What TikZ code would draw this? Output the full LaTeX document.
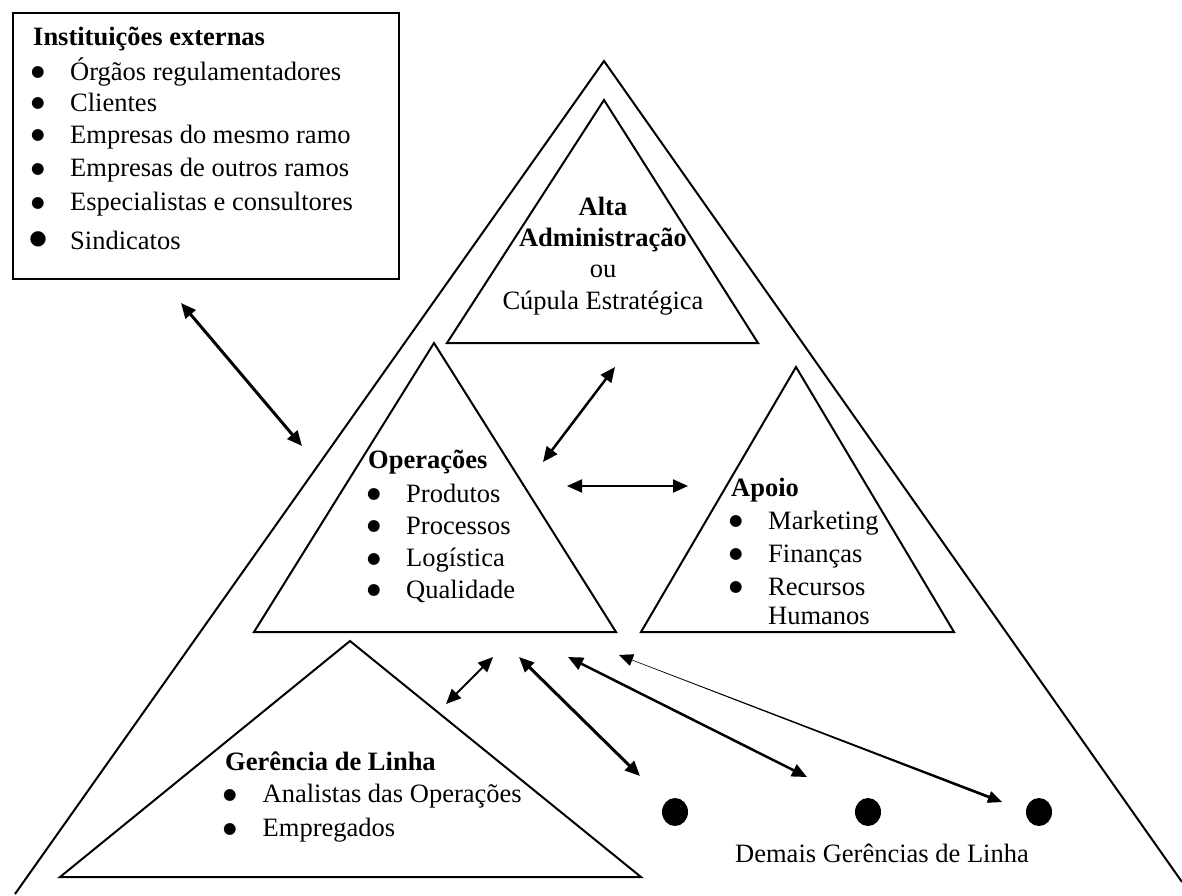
\documentclass[tikz,border=0pt]{standalone}
\usepackage{fontspec}
\setmainfont{Liberation Serif}
\newfontfamily\djv{DejaVu Sans}
\usetikzlibrary{arrows.meta,calc,shapes.geometric}
\newcommand{\mybul}{{\djv ●}}
\tikzset{
  tri/.style={line width=2pt, line join=miter},
  tip/.tip={Triangle[length=15pt,width=13pt]},
  bi/.style={{tip}-{tip}, line width=3pt},
  txt/.style={inner sep=0pt, anchor=base west, font=\fontsize{26.5}{31}\selectfont},
  ttl/.style={txt, font=\fontsize{26.5}{31}\selectfont\bfseries},
  ctr/.style={inner sep=0pt, anchor=base, font=\fontsize{26.5}{31}\selectfont},
  bul/.style={inner sep=0pt, anchor=base, yshift=3.5pt, font=\fontsize{15.5}{18}\selectfont},
  bigbul/.style={inner sep=0pt, anchor=base, yshift=5pt, font=\fontsize{20}{22}\selectfont},
  dot/.style={ellipse, fill=black, inner sep=0pt, minimum width=26pt, minimum height=28pt},
}
\begin{document}
\begin{tikzpicture}[x=1pt,y=-1pt]
\useasboundingbox (0,0) rectangle (1182,895);
\fill[white] (0,0) rectangle (1182,895);

% big outer triangle (organization)
\coordinate (T) at (604,61);
\coordinate (TL) at (15,894);
\coordinate (TR) at (1182,882);
\draw[tri] (TL) -- (T) -- (TR);

% external institutions box
\node[draw, line width=2pt, anchor=north west, inner sep=0pt,
      minimum width=386pt, minimum height=266pt] (box) at (12,12) {};
\node[ttl] (boxT) at (33,45.5) {Instituições externas};
\node[bul] (bb1) at (38,80) {\mybul};
\node[txt] (bi1) at (70,80) {Órgãos regulamentadores};
\node[bul] (bb2) at (38,111) {\mybul};
\node[txt] (bi2) at (70,111) {Clientes};
\node[bul] (bb3) at (38,143.3) {\mybul};
\node[txt] (bi3) at (70,143.3) {Empresas do mesmo ramo};
\node[bul] (bb4) at (38,176.7) {\mybul};
\node[txt] (bi4) at (70,176.7) {Empresas de outros ramos};
\node[bul] (bb5) at (38,210.7) {\mybul};
\node[txt] (bi5) at (70,210.7) {Especialistas e consultores};
\node[bigbul] (bb6) at (38,249.3) {\mybul};
\node[txt] (bi6) at (70,249.3) {Sindicatos};

% Alta Administracao
\coordinate (A1) at (604,100);
\coordinate (A2) at (758,343);
\coordinate (A3) at (447,343);
\draw[tri] (A1) -- (A2) -- (A3) -- cycle;
\node[ctr, font=\fontsize{26.5}{31}\selectfont\bfseries] (alt1) at (603,215) {Alta};
\node[ctr, font=\fontsize{26.5}{31}\selectfont\bfseries] (alt2) at (603,246) {Administração};
\node[ctr] (alt3) at (603,277.7) {ou};
\node[ctr] (alt4) at (603,309.3) {Cúpula Estratégica};

% Operacoes
\coordinate (O1) at (434,343);
\coordinate (O2) at (616,632);
\coordinate (O3) at (254,632);
\draw[tri] (O1) -- (O2) -- (O3) -- cycle;
\node[ttl] (opT) at (368,468.3) {Operações};
\node[bul] (ob1) at (374,502.3) {\mybul};
\node[txt] (oi1) at (406,502.3) {Produtos};
\node[bul] (ob2) at (374,534.3) {\mybul};
\node[txt] (oi2) at (406,534.3) {Processos};
\node[bul] (ob3) at (374,566.7) {\mybul};
\node[txt] (oi3) at (406,566.7) {Logística};
\node[bul] (ob4) at (374,598.3) {\mybul};
\node[txt] (oi4) at (406,598.3) {Qualidade};

% Apoio
\coordinate (P1) at (796,367);
\coordinate (P2) at (954,632);
\coordinate (P3) at (641,632);
\draw[tri] (P1) -- (P2) -- (P3) -- cycle;
\node[ttl] (apT) at (731,496.7) {Apoio};
\node[bul] (ab1) at (736,529) {\mybul};
\node[txt] (ai1) at (768,529) {Marketing};
\node[bul] (ab2) at (736,562.3) {\mybul};
\node[txt] (ai2) at (768,562.3) {Finanças};
\node[bul] (ab3) at (736,595) {\mybul};
\node[txt] (ai3) at (768,595) {Recursos};
\node[txt] (ai4) at (768,624) {Humanos};

% Gerencia de Linha
\coordinate (G1) at (350,641);
\coordinate (G2) at (641,877);
\coordinate (G3) at (60,877);
\draw[tri] (G1) -- (G2) -- (G3) -- cycle;
\node[ttl] (geT) at (225,770.7) {Gerência de Linha};
\node[bul] (gb1) at (230,802.7) {\mybul};
\node[txt] (gi1) at (262.5,802.7) {Analistas das Operações};
\node[bul] (gb2) at (230,836.7) {\mybul};
\node[txt] (gi2) at (262.5,836.7) {Empregados};

% other line managements
\node[dot] (p1) at (675,812) {};
\node[dot] (p2) at (868,812) {};
\node[dot] (p3) at (1039,812) {};
\node[ctr] (dem) at (882,862.3) {Demais Gerências de Linha};

% arrows
\coordinate (a1) at (181,303);
\coordinate (a2) at (302,446);
\draw[bi] (a1) -- (a2);

\coordinate (b1) at (615,367);
\coordinate (b2) at (543,462);
\draw[bi, line width=2.5pt] (b1) -- (b2);

\coordinate (c1) at (567,486);
\coordinate (c2) at (688,486);
\draw[bi, line width=2pt] (c1) -- (c2);

\coordinate (d1) at (493,657);
\coordinate (d2) at (446,704);
\draw[bi, line width=2pt] (d1) -- (d2);

\coordinate (e1) at (519,657);
\coordinate (e2) at (640,776);
\draw[bi] (e1) -- (e2);

\coordinate (f1) at (568,657);
\coordinate (f2) at (807,777);
\draw[bi, line width=2.5pt] (f1) -- (f2);

% tapered arrow
\coordinate (g1) at (619,655);
\coordinate (g2) at (1002,802);
\draw[{Triangle[length=14pt,width=12pt,black]}-{Triangle[length=14pt,width=12pt,black]}, line width=0.4pt, draw=gray] (g1) -- (g2);
\coordinate (gA) at ($(g1)!14pt!(g2)$);
\coordinate (gB) at ($(g2)!13pt!(g1)$);
\fill ($(gA)!0.2pt!90:(gB)$) -- ($(gB)!1.4pt!-90:(gA)$) -- ($(gB)!1.4pt!90:(gA)$) -- ($(gA)!0.2pt!-90:(gB)$) -- cycle;
\end{tikzpicture}
\end{document}
